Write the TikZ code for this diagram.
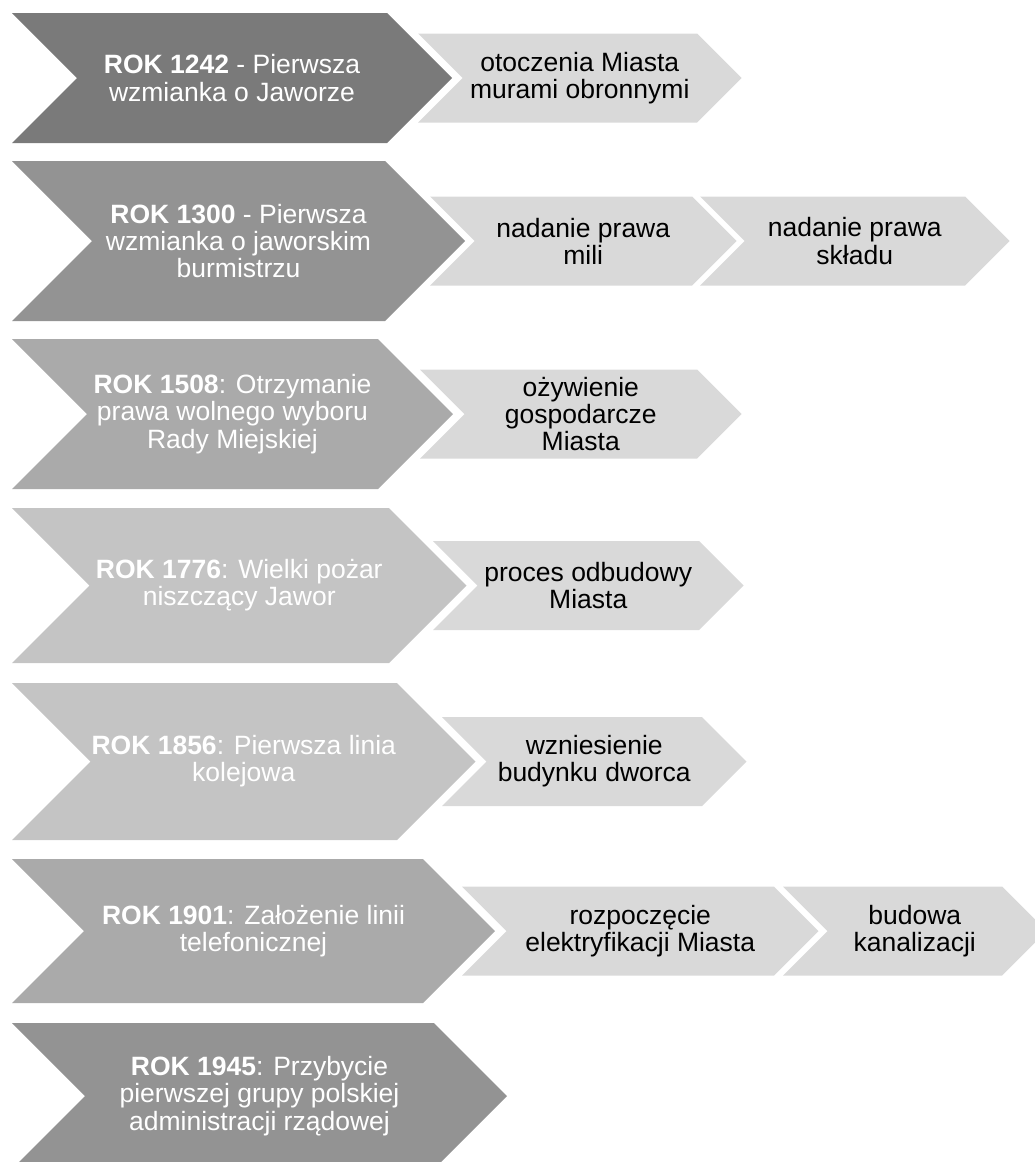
\documentclass[tikz,border=0pt]{standalone}
\usepackage{fontspec}
\setmainfont{Liberation Sans}
\definecolor{gA}{HTML}{7A7A7A}
\definecolor{gB}{HTML}{939393}
\definecolor{gC}{HTML}{AAAAAA}
\definecolor{gD}{HTML}{C4C4C4}
\definecolor{gS}{HTML}{D9D9D9}
\newcommand\chevronshape[8]{%
  \fill[#2] (#3,#4) -- (#6,#4) -- ({#6+(#5-#4)/2},{(#4+#5)/2}) -- (#6,#5) -- (#3,#5) -- ({#3+(#5-#4)/2},{(#4+#5)/2}) -- cycle;
  \node[#7] (#1) at ({(#3+(#5-#4)/2+#6)/2},{(#4+#5)/2}) {#8};%
}
\begin{document}
\begin{tikzpicture}[x=1pt,y=-1pt,
  bigtext/.style={text=white, align=center, inner sep=0pt, font=\fontsize{26.5}{27.2}\selectfont},
  smalltext/.style={text=black, align=center, inner sep=0pt, font=\fontsize{26.5}{27.2}\selectfont}]
\useasboundingbox (0,0) rectangle (1035,1162);
\clip (0,0) rectangle (1035,1162);
% row 1
\chevronshape{b1}{gA}{12}{13}{143}{387}{bigtext}{\textbf{ROK 1242} - Pierwsza\\wzmianka o Jaworze}
\chevronshape{s1}{gS}{418}{33.5}{122.5}{697}{smalltext}{otoczenia Miasta\\murami obronnymi}
% row 2
\chevronshape{b2}{gB}{12}{161}{321}{385}{bigtext}{\textbf{ROK 1300} - Pierwsza\\wzmianka o jaworskim\\burmistrzu}
\chevronshape{s2a}{gS}{430}{196.5}{285.5}{692}{smalltext}{nadanie prawa\\mili}
\chevronshape{s2b}{gS}{700}{196.5}{285.5}{965}{smalltext}{nadanie prawa\\składu}
% row 3
\chevronshape{b3}{gC}{12}{339}{489}{378}{bigtext}{\textbf{ROK 1508}: Otrzymanie\\prawa wolnego wyboru\\Rady Miejskiej}
\chevronshape{s3}{gS}{420}{369.5}{458.5}{697}{smalltext}{ożywienie\\gospodarcze\\Miasta}
% row 4
\chevronshape{b4}{gD}{12}{508}{663}{389}{bigtext}{\textbf{ROK 1776}: Wielki pożar\\niszczący Jawor}
\chevronshape{s4}{gS}{433}{541}{630}{699}{smalltext}{proces odbudowy\\Miasta}
% row 5
\chevronshape{b5}{gD}{12}{683}{840}{397}{bigtext}{\textbf{ROK 1856}: Pierwsza linia\\kolejowa}
\chevronshape{s5}{gS}{442}{717}{806}{702}{smalltext}{wzniesienie\\budynku dworca}
% row 6
\chevronshape{b6}{gC}{12}{859}{1003}{423}{bigtext}{\textbf{ROK 1901}: Założenie linii\\telefonicznej}
\chevronshape{s6a}{gS}{462}{886.5}{975.5}{774}{smalltext}{rozpoczęcie\\elektryfikacji Miasta}
\chevronshape{s6b}{gS}{783}{886.5}{975.5}{1002}{smalltext}{budowa\\kanalizacji}
% row 7
\chevronshape{b7}{gB}{12}{1023}{1169}{434}{bigtext}{\textbf{ROK 1945}: Przybycie\\pierwszej grupy polskiej\\administracji rządowej}
\end{tikzpicture}
\end{document}
